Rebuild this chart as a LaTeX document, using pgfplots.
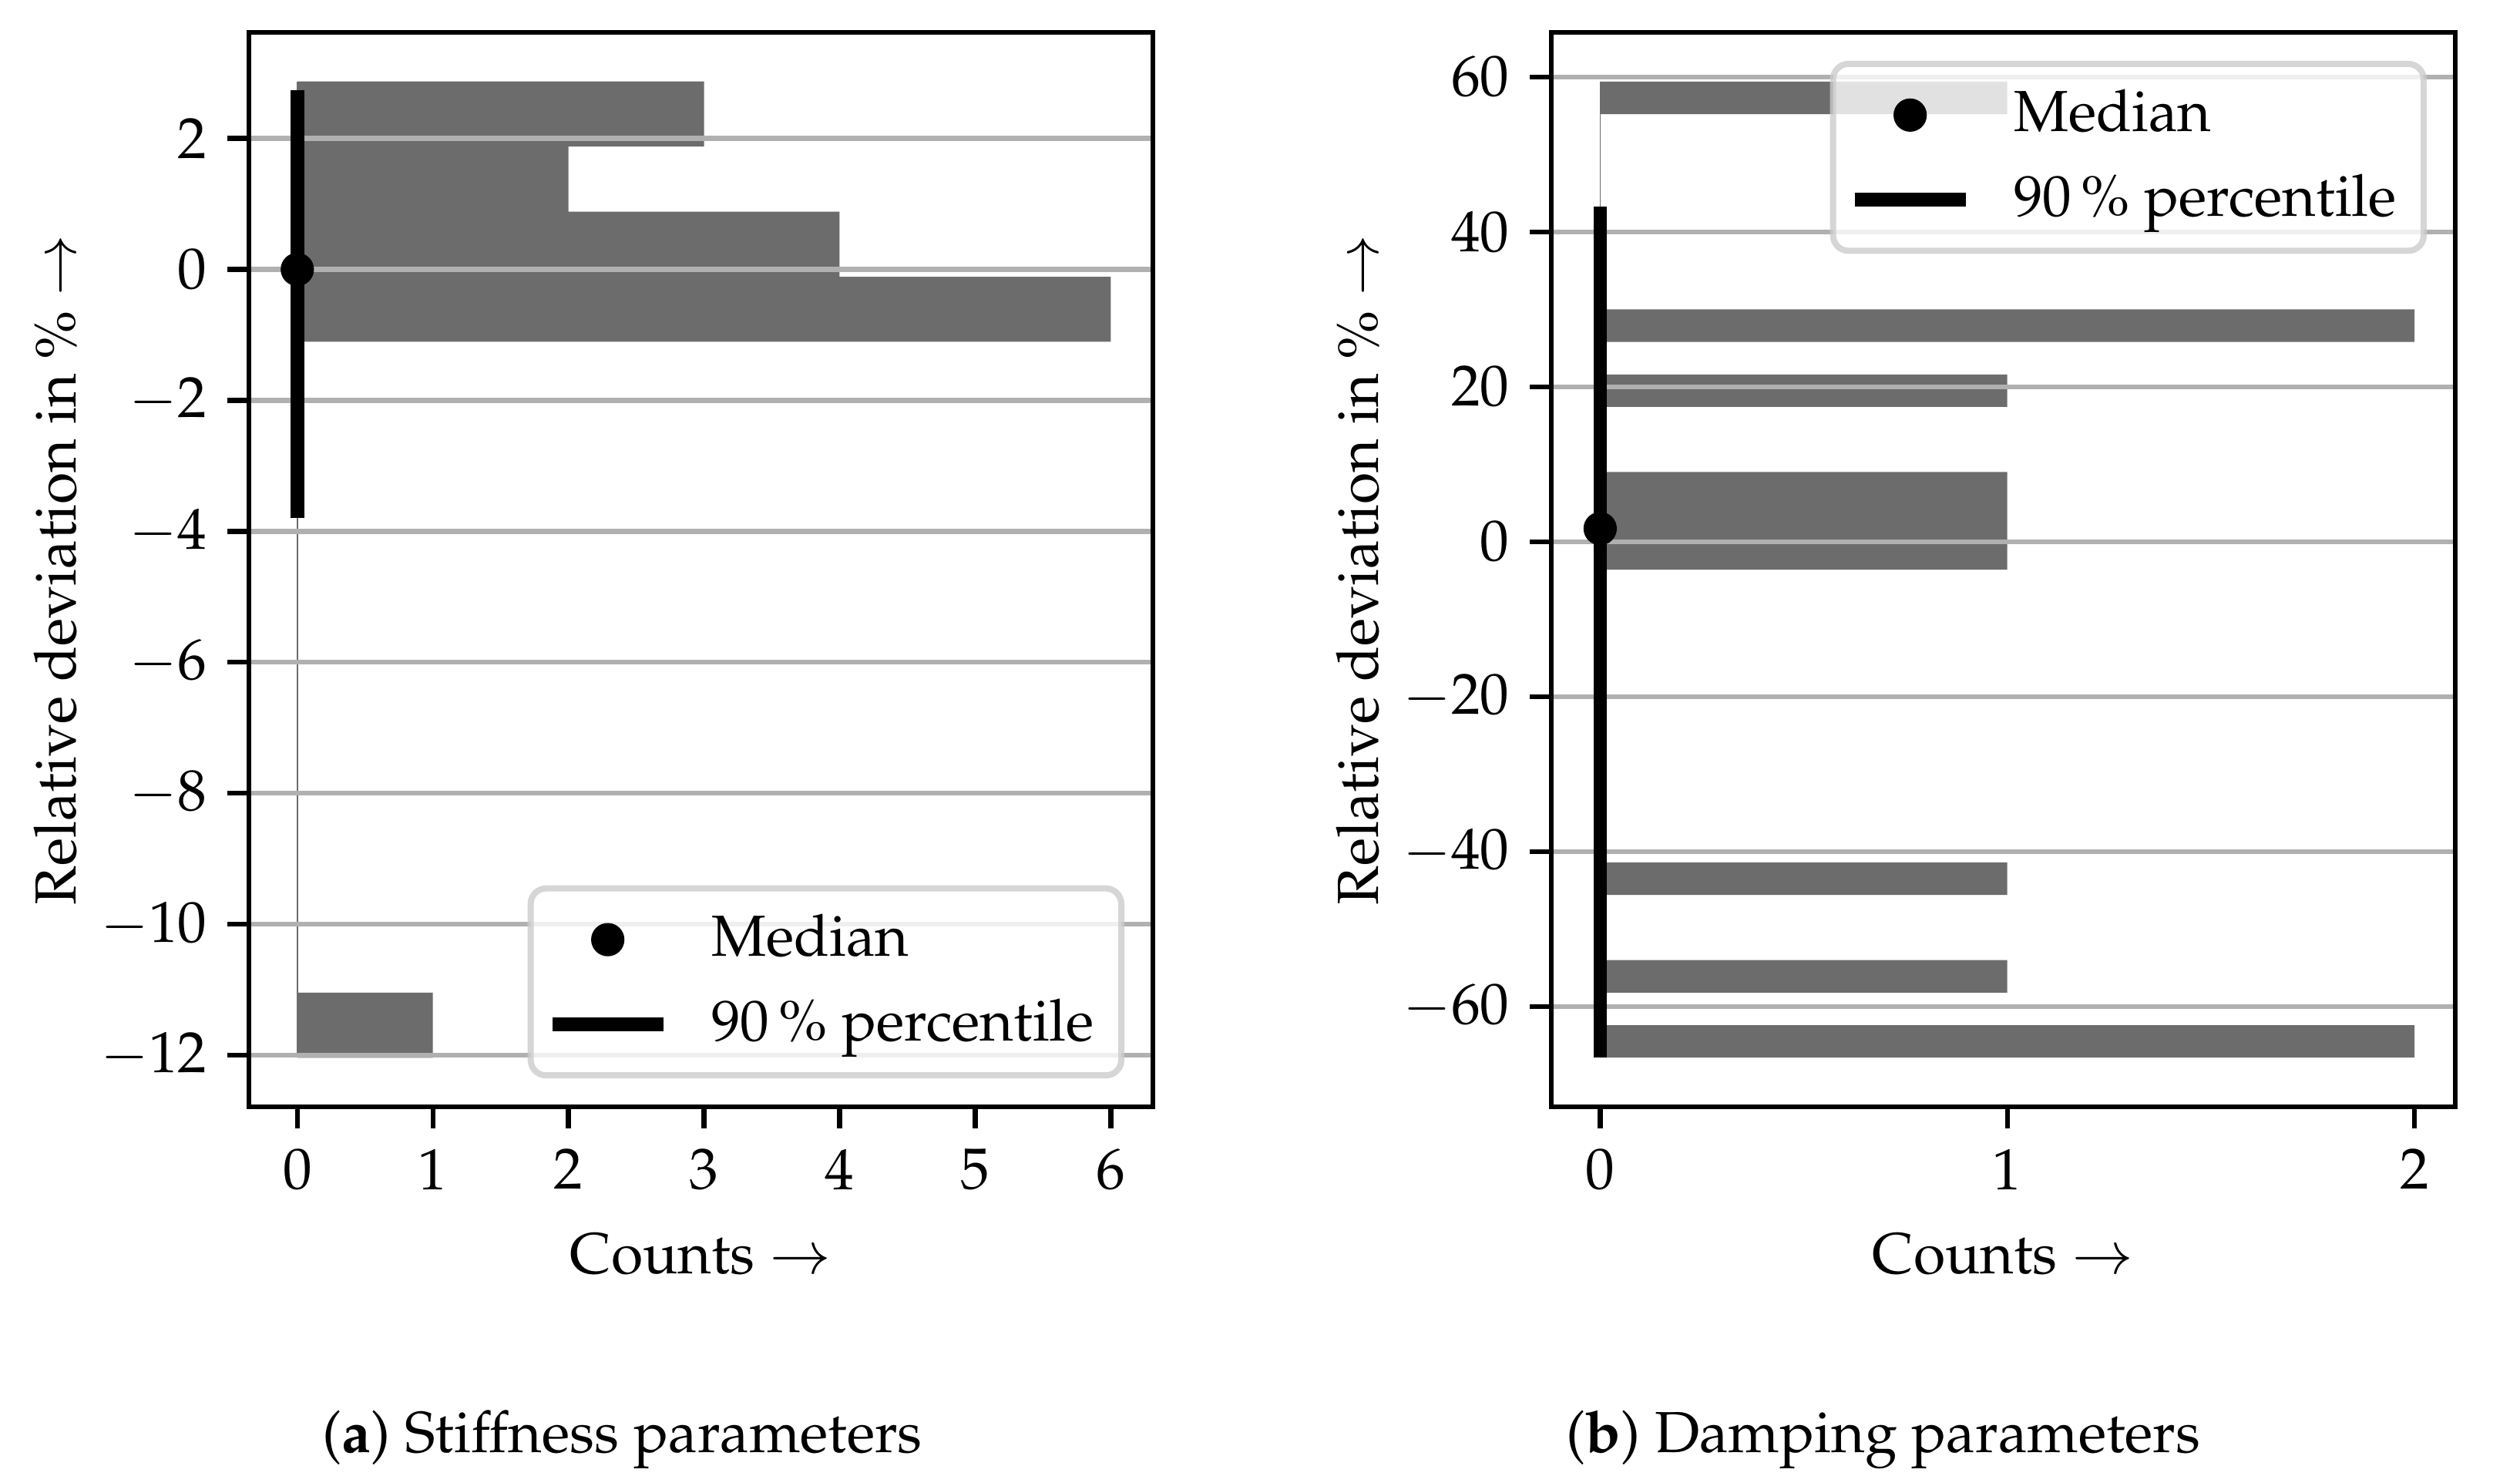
\documentclass[border=0pt]{standalone}
\usepackage[T1]{fontenc}
\usepackage{mathpazo}
\usepackage{pgfplots}
\pgfplotsset{compat=1.18}

\definecolor{bargray}{RGB}{107,108,107}
\definecolor{gridgray}{RGB}{176,176,176}
\definecolor{framegray}{RGB}{204,204,204}

% histogram counts per bin: count, lower bin edge (last row closes the last bin)
\pgfplotstableread{
count edge
1 -12.040
0 -11.046
0 -10.052
0 -9.058
0 -8.064
0 -7.070
0 -6.076
0 -5.082
0 -4.088
0 -3.094
0 -2.100
6 -1.106
4 -0.112
2 0.882
3 1.876
3 2.870
}\stiffness

\pgfplotstableread{
count edge
2 -66.6
0 -62.4
1 -58.2
0 -54.0
0 -49.8
1 -45.6
0 -41.4
0 -37.2
0 -33.0
0 -28.8
0 -24.6
0 -20.4
0 -16.2
0 -12.0
0 -7.8
1 -3.6
1 0.6
1 4.8
0 9.0
0 13.2
1 17.4
0 21.6
2 25.8
0 30.0
0 34.2
0 38.4
0 42.6
0 46.8
0 51.0
1 55.2
1 59.4
}\damping

\pgfplotsset{
  histstyle/.style={
    scale only axis,
    width=146.6pt, height=174.25pt,
    set layers,
    axis line style={line width=0.8pt, black},
    tick align=outside,
    tick pos=left,
    major tick length=3.5pt,
    tick style={line width=0.8pt, black},
    ymajorgrids,
    major grid style={draw=gridgray, line width=0.8pt},
    every axis x label/.style={at={(axis description cs:0.5,-0.1555)}, anchor=base},
    every axis y label/.style={at={(axis description cs:-0.2137,0.5)}, rotate=90, anchor=center},
    xlabel={Counts $\rightarrow$},
    ylabel={Relative deviation in \% $\rightarrow$},
    legend cell align=left,
    legend image code/.code={
      \draw[mark repeat=2, mark phase=2, fill opacity=1, draw opacity=1, #1]
        plot coordinates {(0pt,0pt) (9pt,0pt) (18pt,0pt)};},
    legend style={draw=framegray, line width=1pt, rounded corners=2.5pt,
      fill=white, fill opacity=0.8, draw opacity=0.8, text opacity=1,
      inner xsep=2.4pt, inner ysep=2.2pt, row sep=1.5pt, column sep=4.7pt},
  },
}

\begin{document}
\fontsize{9.4pt}{11.3pt}\selectfont
\begin{tikzpicture}
\begin{axis}[histstyle, at={(0pt,0pt)}, anchor=south west,
  xmin=-0.357, xmax=6.31, ymin=-12.79, ymax=3.62,
  xtick={0,...,6}, ytick={-12,-10,...,2},
  legend style={at={(0.9686,0.0264)}, anchor=south east}]
  \addplot[on layer=axis background, xbar interval, fill=bargray, draw=none, forget plot]
    table[x=count, y=edge] {\stiffness};
  \addplot[on layer=axis background, draw=bargray, line width=0.2pt, forget plot]
    coordinates {(0,-12.04) (0,2.87)};
  \addplot[only marks, mark=*, mark size=2.5pt, black, mark options={line width=0.4pt}]
    coordinates {(0,0.0)};
  \addlegendentry{Median}
  \addplot[black, line width=2.2pt] coordinates {(0,-3.80) (0,2.74)};
  \addlegendentry{90\,\% percentile}
\end{axis}

\begin{axis}[histstyle, at={(211.25pt,0pt)}, anchor=south west,
  xmin=-0.12, xmax=2.1, ymin=-72.95, ymax=65.75,
  xtick={0,1,2}, ytick={-60,-40,...,60},
  legend style={at={(0.9686,0.9736)}, anchor=north east}]
  \addplot[on layer=axis background, xbar interval, fill=bargray, draw=none, forget plot]
    table[x=count, y=edge] {\damping};
  \addplot[on layer=axis background, draw=bargray, line width=0.2pt, forget plot]
    coordinates {(0,-66.6) (0,59.4)};
  \addplot[only marks, mark=*, mark size=2.5pt, black, mark options={line width=0.4pt}]
    coordinates {(0,1.7)};
  \addlegendentry{Median}
  \addplot[black, line width=2.2pt] coordinates {(0,-66.6) (0,43.3)};
  \addlegendentry{90\,\% percentile}
\end{axis}

\node[anchor=base] at (60.6pt,-56.1pt) {(\textbf{a}) Stiffness parameters};
\node[anchor=base] at (265.1pt,-56.1pt) {(\textbf{b}) Damping parameters};

\pgfresetboundingbox
\path[use as bounding box] (-40.375pt,-59.75pt) rectangle (368.375pt,179.5pt);
\end{tikzpicture}
\end{document}
